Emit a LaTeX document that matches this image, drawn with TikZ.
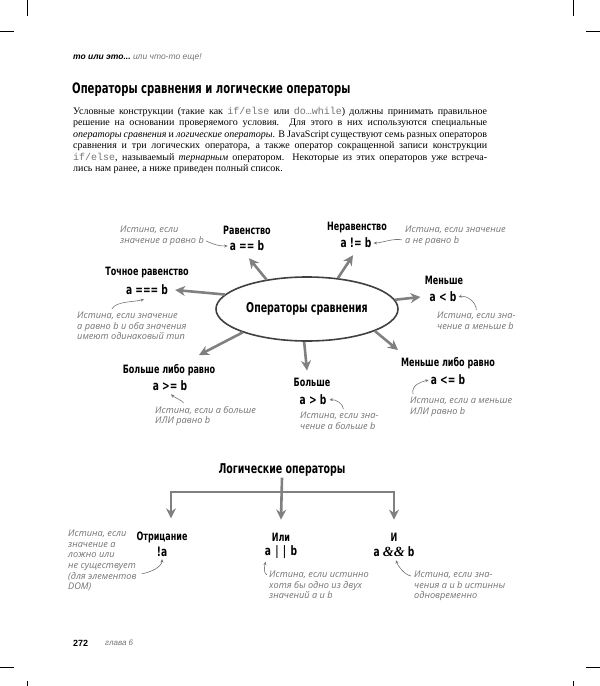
\documentclass[tikz,border=0pt]{standalone}
\usepackage{fontspec}
\setmainfont{Liberation Serif}
\setsansfont{Liberation Sans}
\setmonofont{Liberation Mono}
\newfontfamily\headfont[FakeStretch=0.7]{DejaVu Sans}
\newfontfamily\handfont{Open Sans}
\usepackage{tikz}
\usetikzlibrary{shapes.geometric,arrows.meta,positioning}

\definecolor{arrowgrey}{gray}{0.5}
\definecolor{notegrey}{gray}{0.45}
\newcommand{\jscode}[1]{{\ttfamily\color{black!55}#1}}

\tikzset{
  optitle/.style={font=\headfont\bfseries\fontsize{11.5}{13}\selectfont, inner sep=1pt},
  opcode/.style={font=\headfont\bfseries\fontsize{13}{15}\selectfont, inner sep=1pt},
  note/.style={font=\handfont\itshape\fontsize{9.2}{10.6}\selectfont, text=notegrey, align=left, inner sep=0pt, anchor=north west},
  bigarrow/.style={draw=arrowgrey, line width=2.6pt, -{Stealth[length=10pt,width=10pt]}},
  notearrow/.style={draw=notegrey, line width=0.6pt, -{Stealth[length=3.5pt,width=3pt]}},
  crop/.style={line width=0.5pt},
}

\begin{document}
\begin{tikzpicture}[x=1pt,y=-1pt]
  \useasboundingbox (0,0) rectangle (600,686);
  % crop marks
  \draw[crop] (27,0) -- (27,16) (0,31) -- (14,31);
  \draw[crop] (573,0) -- (573,16) (586,31) -- (600,31);
  \draw[crop] (0,667) -- (14,667) (27,681) -- (27,686);
  \draw[crop] (586,667) -- (600,667) (573,681) -- (573,686);

  % page head and text
  \node[anchor=west, inner sep=0pt, font=\sffamily\fontsize{8.5}{10}\selectfont] (runhead) at (73,57)
    {\bfseries\itshape то или это...\ \mdseries\color{black!55}или что-то еще!};
  \node[anchor=west, inner sep=0pt, font=\headfont\bfseries\fontsize{14.4}{17}\selectfont] (heading) at (72,90)
    {Операторы сравнения и логические операторы};
  \node[anchor=north west, inner sep=0pt, text width=414pt, align=justify, font=\fontsize{10}{11.5}\selectfont] (intro) at (73,107)
    {\noindent Условные конструкции (такие как \jscode{if/else} или \jscode{do…while}) должны принимать правильное\linebreak
     решение на основании проверяемого условия. Для этого в них используются специальные\linebreak
     \textit{операторы сравнения} и \textit{логические операторы}. В JavaScript существуют семь разных операторов\linebreak
     сравнения и три логических оператора, а также оператор сокращенной записи конструкции\linebreak
     \jscode{if/else}, называемый \textit{тернарным} оператором. Некоторые из этих операторов уже встреча-\linebreak
     лись нам ранее, а ниже приведен полный список.};

  % comparison operators
  \node[ellipse, draw=black!75, line width=1.6pt, minimum width=182pt, minimum height=64pt, inner sep=0pt,
        font=\headfont\bfseries\fontsize{13.5}{15}\selectfont] (cmp) at (307,309) {Операторы сравнения};

  \node[optitle] (eqtitle) at (247,230) {Равенство};
  \node[opcode] (eqcode) at (247,246) {a == b};
  \node[optitle] (netitle) at (357,227) {Неравенство};
  \node[opcode] (necode) at (356,243) {a != b};
  \node[optitle] (seqtitle) at (147,272) {Точное равенство};
  \node[opcode] (seqcode) at (147,290) {a === b};
  \node[optitle] (lttitle) at (444,280) {Меньше};
  \node[opcode] (ltcode) at (443,297) {a < b};
  \node[optitle] (getitle) at (169,370) {Больше либо равно};
  \node[opcode] (gecode) at (170,386) {a >= b};
  \node[optitle] (gttitle) at (312,382) {Больше};
  \node[opcode] (gtcode) at (313,400) {a > b};
  \node[optitle] (letitle) at (448,363) {Меньше либо равно};
  \node[opcode] (lecode) at (448,380) {a <= b};

  \draw[bigarrow] (cmp.144) -- ([xshift=2pt,yshift=-6pt]eqcode.south);
  \draw[bigarrow] (cmp.45) -- ([xshift=-3pt,yshift=-6pt]necode.south);
  \draw[bigarrow] (cmp.170) -- ([xshift=6pt]seqcode.east);
  \draw[bigarrow] (cmp.6) -- ([xshift=-8pt]ltcode.west);
  \draw[bigarrow] (cmp.200) -- ([xshift=30pt,yshift=8pt]getitle.north);
  \draw[bigarrow] (cmp.265) -- ([xshift=-5pt,yshift=6pt]gttitle.north);
  \draw[bigarrow] (cmp.342) -- ([xshift=-50pt,yshift=6pt]letitle.north);

  \node[note] (ann-eq) at (120,226) {Истина, если\\значение a равно b};
  \node[note] (ann-ne) at (405,226) {Истина, если значение\\a не равно b};
  \node[note] (ann-seq) at (77,312) {Истина, если значение\\a равно b и оба значения\\имеют одинаковый тип};
  \node[note] (ann-lt) at (437,312) {Истина, если зна-\\чение a меньше b};
  \node[note] (ann-ge) at (155,406) {Истина, если a больше\\ИЛИ равно b};
  \node[note] (ann-gt) at (300,412) {Истина, если зна-\\чение a больше b};
  \node[note] (ann-le) at (410,397) {Истина, если a меньше\\ИЛИ равно b};

  \draw[notearrow] ([xshift=2pt,yshift=-5pt]ann-eq.east) .. controls +(8,4) and +(-8,0) .. ([xshift=-1pt]eqcode.west);
  \draw[notearrow] ([xshift=-3pt,yshift=-4pt]ann-ne.west) .. controls +(-8,-2) and +(8,0) .. ([xshift=1pt]necode.east);
  \draw[notearrow] ([xshift=-20pt,yshift=3pt]ann-seq.north) .. controls +(4,-8) and +(-10,3) .. ([xshift=-3pt,yshift=-3pt]seqcode.south);
  \draw[notearrow] ([yshift=2pt]ann-lt.north) .. controls +(0,-8) and +(8,-2) .. ([xshift=1pt]ltcode.east);
  \draw[notearrow] ([xshift=-22pt,yshift=3pt]ann-ge.north) .. controls +(-2,-3) and +(3,3) .. ([xshift=1pt,yshift=-2pt]gecode.south);
  \draw[notearrow] ([xshift=4pt,yshift=3pt]ann-gt.north) .. controls +(0,-5) and +(6,-1) .. ([xshift=2pt]gtcode.east);
  \draw[notearrow] ([xshift=3pt,yshift=3pt]ann-le.north west) .. controls +(-2,-9) and +(-8,2) .. ([xshift=-1pt]lecode.west);

  % logical operators
  \node[font=\headfont\bfseries\fontsize{13.5}{15}\selectfont, inner sep=1pt] (logtitle) at (282,470) {Логические операторы};
  \node[optitle] (nottitle) at (162,537) {Отрицание};
  \node[opcode] (notcode) at (162,552) {!a};
  \node[optitle] (ortitle) at (281,537) {Или};
  \node[opcode] (orcode) at (281,552) {a\,\,|\,\,|\,\,b};
  \node[optitle] (andtitle) at (394,537) {И};
  \node[opcode] (andcode) at (394,552) {a {\rmfamily\bfseries\itshape\fontsize{14}{15}\selectfont\&\&} b};

  \coordinate (bar) at (281,492);
  \draw[bigarrow] (logtitle.south) -- ([yshift=12pt]ortitle.north);
  \draw[bigarrow, {Stealth[length=10pt,width=10pt]}-{Stealth[length=10pt,width=10pt]}]
    ([xshift=9pt,yshift=12pt]nottitle.north) |- (bar) -| ([yshift=12pt]andtitle.north);

  \node[note] (ann-not) at (68,530) {Истина, если\\значение a\\ложно или\\не существует\\(для элементов\\DOM)};
  \node[note] (ann-or) at (269,571) {Истина, если истинно\\хотя бы одно из двух\\значений a и b};
  \node[note] (ann-and) at (414,571) {Истина, если зна-\\чения a и b истинны\\одновременно};

  \draw[notearrow] ([xshift=5pt,yshift=-13pt]ann-not.east) .. controls +(8,-1) and +(0,8) .. ([yshift=-1pt]notcode.south);
  \draw[notearrow] ([xshift=-2pt,yshift=-4pt]ann-or.north west) .. controls +(-4,-2) and +(-1,4) .. ([xshift=2pt,yshift=-2pt]orcode.south west);
  \draw[notearrow] ([xshift=-3pt,yshift=-5pt]ann-and.north west) .. controls +(-6,-1) and +(2,6) .. ([xshift=2pt,yshift=-2pt]andcode.south);

  % page foot
  \node[anchor=west, inner sep=0pt, font=\sffamily\bfseries\fontsize{9}{11}\selectfont] (pagenum) at (73,643) {272};
  \node[anchor=west, inner sep=0pt, font=\sffamily\itshape\fontsize{8}{10}\selectfont, text=black!55] (chapter) at (105,643) {глава 6};
\end{tikzpicture}
\end{document}
